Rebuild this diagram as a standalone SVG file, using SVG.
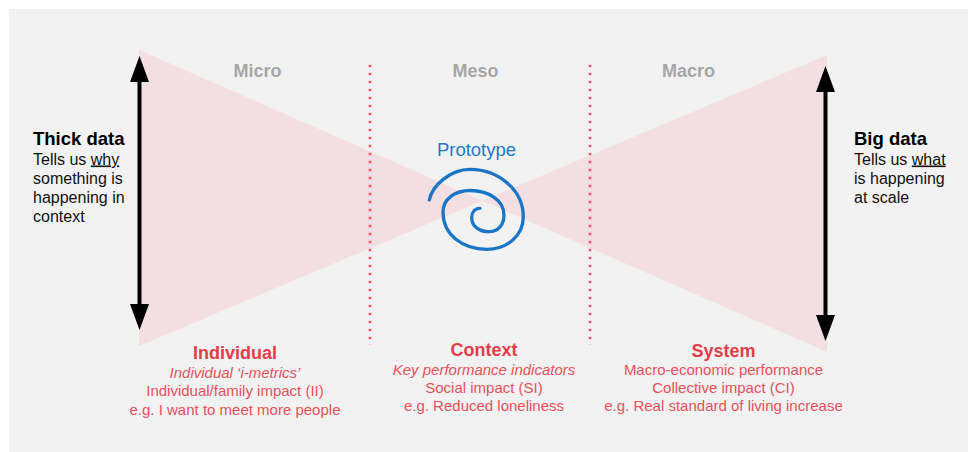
<svg xmlns="http://www.w3.org/2000/svg" width="968" height="452" viewBox="0 0 968 452">
  <defs>
    <marker id="head" markerUnits="userSpaceOnUse" markerWidth="28" markerHeight="20" refX="1" refY="10" orient="auto-start-reverse" viewBox="0 0 28 20">
      <path d="M0,0.5 L26,10 L0,19.5 Z" fill="#000"/>
    </marker>
    <style>
      text { font-family: "Liberation Sans", Arial, sans-serif; }
      .scale { font-size: 18px; font-weight: bold; fill: #a6a6a6; text-anchor: middle; }
      .h { font-size: 18.5px; font-weight: bold; fill: #000; }
      .b { font-size: 16px; fill: #111; }
      .rt { font-size: 18px; font-weight: bold; fill: #e23d4a; text-anchor: middle; }
      .rl { font-size: 15px; fill: #e8505a; text-anchor: middle; }
      .it { font-style: italic; }
      .dots { stroke: #f5586a; stroke-width: 2.6; stroke-dasharray: 2.6 5.4; }
      .arrow { stroke: #000; stroke-width: 4; fill: none; marker-start: url(#head); marker-end: url(#head); }
      .wedge { fill: #f3dfe2; }
    </style>
  </defs>

  <rect x="9" y="9" width="959" height="443" fill="#f2f2f2"/>

  <g id="bowtie">
    <polygon class="wedge" points="139,50 139,346 482.4,200.7"/>
    <polygon class="wedge" points="827,55 827,352 482.4,200.7"/>
  </g>

  <g id="dividers">
    <line class="dots" x1="370" y1="64.7" x2="370" y2="345"/>
    <line class="dots" x1="590" y1="64.7" x2="590" y2="345"/>
  </g>

  <g id="scale-labels">
    <text class="scale" x="257.5" y="77">Micro</text>
    <text class="scale" x="475.5" y="77">Meso</text>
    <text class="scale" x="688.5" y="77">Macro</text>
  </g>

  <g id="connectors">
    <line class="arrow" x1="139.5" y1="81" x2="139.5" y2="305"/>
    <line class="arrow" x1="825.5" y1="91" x2="825.5" y2="316"/>
  </g>

  <g id="thick-data">
    <text class="h" x="33" y="145">Thick data</text>
    <text class="b" x="33" y="164.5">Tells us <tspan text-decoration="underline">why</tspan></text>
    <text class="b" x="33" y="183.5">something is</text>
    <text class="b" x="33" y="202.5">happening in</text>
    <text class="b" x="33" y="221.5">context</text>
  </g>

  <g id="big-data">
    <text class="h" x="854" y="145">Big data</text>
    <text class="b" x="854" y="164.5">Tells us <tspan text-decoration="underline">what</tspan></text>
    <text class="b" x="854" y="183.5">is happening</text>
    <text class="b" x="854" y="202.5">at scale</text>
  </g>

  <g id="prototype">
    <text x="476.5" y="156" style="font-size:18.5px;fill:#1f78c8;text-anchor:middle">Prototype</text>
    <path d="M429.3,200 C432,186 450,169.3 470,169.3 C499,169.3 523.3,190.5 523.3,216.7 C523.3,236 506.8,249.3 486.7,249.3 C462.8,249.3 443,235 443,212 C443,199 455,190.5 470,190.5 C488,190.5 504,200 504,215 C504,225 498,231.7 489,231.7 C479,231.7 471.7,226 471.7,218 C471.7,212 475,208.3 480,208.3" fill="none" stroke="#1b75c6" stroke-width="3.3" stroke-linecap="round"/>
  </g>

  <g id="individual">
    <text class="rt" x="235" y="358.5">Individual</text>
    <text class="rl it" x="235" y="377.5">Individual ‘i-metrics’</text>
    <text class="rl" x="235" y="396">Individual/family impact (II)</text>
    <text class="rl" x="235" y="414.5">e.g. I want to meet more people</text>
  </g>

  <g id="context">
    <text class="rt" x="484" y="356">Context</text>
    <text class="rl it" x="484" y="375">Key performance indicators</text>
    <text class="rl" x="484" y="393">Social impact (SI)</text>
    <text class="rl" x="484" y="411">e.g. Reduced loneliness</text>
  </g>

  <g id="system">
    <text class="rt" x="723.5" y="357">System</text>
    <text class="rl" x="723.5" y="375">Macro-economic performance</text>
    <text class="rl" x="723.5" y="393">Collective impact (CI)</text>
    <text class="rl" x="723.5" y="411">e.g. Real standard of living increase</text>
  </g>
</svg>
